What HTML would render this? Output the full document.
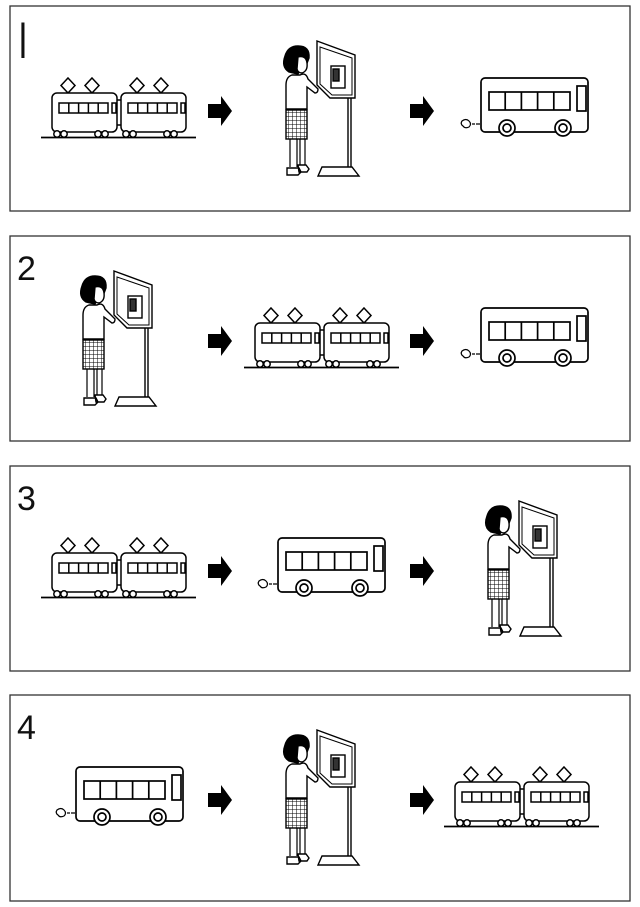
<!DOCTYPE html>
<html><head><meta charset="utf-8"><style>
html,body{margin:0;padding:0;background:#fff;}
svg{display:block;}
text{font-family:"Liberation Sans",sans-serif;}
</style></head><body>
<svg width="640" height="907" viewBox="0 0 640 907" xmlns="http://www.w3.org/2000/svg">
<defs>
<pattern id="chk" width="4" height="4" patternUnits="userSpaceOnUse">
<rect width="4" height="4" fill="#fff"/><path d="M0 0V4M0 0H4" stroke="#000" stroke-width="1"/>
</pattern>
<g id="car" fill="#fff" stroke="#000" stroke-width="1.5">
<path d="M68 78 l7 7.5 -7 7.5 -7 -7.5z"/><path d="M92 78 l7 7.5 -7 7.5 -7 -7.5z"/>
<rect x="52" y="93" width="65" height="39" rx="5"/>
<rect x="59" y="103" width="49" height="10"/>
<path d="M68.8 103v10M78.6 103v10M88.4 103v10M98.2 103v10"/>
<rect x="112" y="103" width="4" height="10"/>
<circle cx="57" cy="134" r="3.2"/><circle cx="64" cy="134" r="3.2"/>
<circle cx="98" cy="134" r="3.2"/><circle cx="105" cy="134" r="3.2"/>
</g>
<g id="train">
<rect x="116" y="100" width="7" height="25" fill="#fff" stroke="#000" stroke-width="1.5"/>
<use href="#car"/><use href="#car" x="69"/>
<path d="M41 137.5H196" stroke="#000" stroke-width="1.8"/>
</g>
<g id="arrow"><path d="M208 104h13v-8l11 15 -11 15v-8h-13z" fill="#000"/></g>
<g id="bus" fill="#fff" stroke="#000" stroke-width="1.7">
<rect x="481" y="78" width="107" height="54" rx="4"/>
<rect x="489" y="92" width="81" height="18"/>
<path d="M505.2 92v18M521.4 92v18M537.6 92v18M553.8 92v18"/>
<rect x="577" y="86" width="9" height="25"/>
<circle cx="507" cy="128" r="8"/><circle cx="507" cy="128" r="4"/>
<circle cx="563" cy="128" r="8"/><circle cx="563" cy="128" r="4"/>
<path d="M462 121q-2 3 1 5q2 3 6 1q3 -3 0 -6q-3 -3 -7 0z" stroke-width="1.2"/>
<path d="M472 124h3M476 124h4" stroke-width="1.2"/>
</g>
<g id="girl" stroke="#000" stroke-width="1.4">
<path d="M317 41 L355 55 L355 98 L330 98 L317 85 Z" fill="#fff"/>
<path d="M320 47 L352 58 L352 95 L332 95 L320 84 Z" fill="none" stroke-width="1"/>
<rect x="331" y="66" width="14" height="22" fill="#fff"/>
<rect x="333" y="69" width="6" height="12" fill="#333"/>
<path d="M348 98V175M351 98V175" fill="none"/>
<path d="M322 167H352L359 176H318Z" fill="#fff"/>
<path d="M289 72 q-8 -5 -4 -16 q3 -10 13 -10 q12 0 11 12 l-3 8 q-6 2 -8 8 z" fill="#000"/>
<path d="M298 57 q8 -2 9 6 q1 8 -5 10 q-4 0 -5 -4z" fill="#fff"/>
<path d="M300 75 q6 -3 8 4 l10 10 q0 4 -3 4 l-8 -6 v22 h-21 v-24 q0 -8 6 -10 z" fill="#fff"/>
<rect x="286" y="110" width="21" height="29" fill="url(#chk)"/>
<path d="M290 139v28M297 139v28M300 139v28M305 139v28" fill="none" stroke-width="1.2"/>
<path d="M287 168h12l2 4 -3 3h-11zM298 165h8l3 4 -2 3h-8z" fill="#fff"/>
</g>
</defs>
<g fill="none" stroke="#333" stroke-width="1.3">
<rect x="10" y="6" width="620" height="205"/>
<rect x="10" y="236" width="620" height="205"/>
<rect x="10" y="466" width="620" height="205"/>
<rect x="10" y="695" width="620" height="206"/>
</g>
<g font-size="34" fill="#111">
<text x="18" y="50" font-size="38">|</text>
<text x="17" y="280">2</text>
<text x="17" y="510">3</text>
<text x="17" y="739">4</text>
</g>
<use href="#train"/><use href="#arrow"/><use href="#girl"/><use href="#arrow" x="202"/><use href="#bus"/>
<g transform="translate(0,230)">
<use href="#girl" x="-203"/><use href="#arrow"/><use href="#train" x="203"/><use href="#arrow" x="202"/><use href="#bus"/>
</g>
<g transform="translate(0,460)">
<use href="#train"/><use href="#arrow"/><use href="#bus" x="-203"/><use href="#arrow" x="202"/><use href="#girl" x="202"/>
</g>
<g transform="translate(0,689)">
<use href="#bus" x="-405"/><use href="#arrow"/><use href="#girl"/><use href="#arrow" x="202"/><use href="#train" x="403"/>
</g>
</svg>
</body></html>
